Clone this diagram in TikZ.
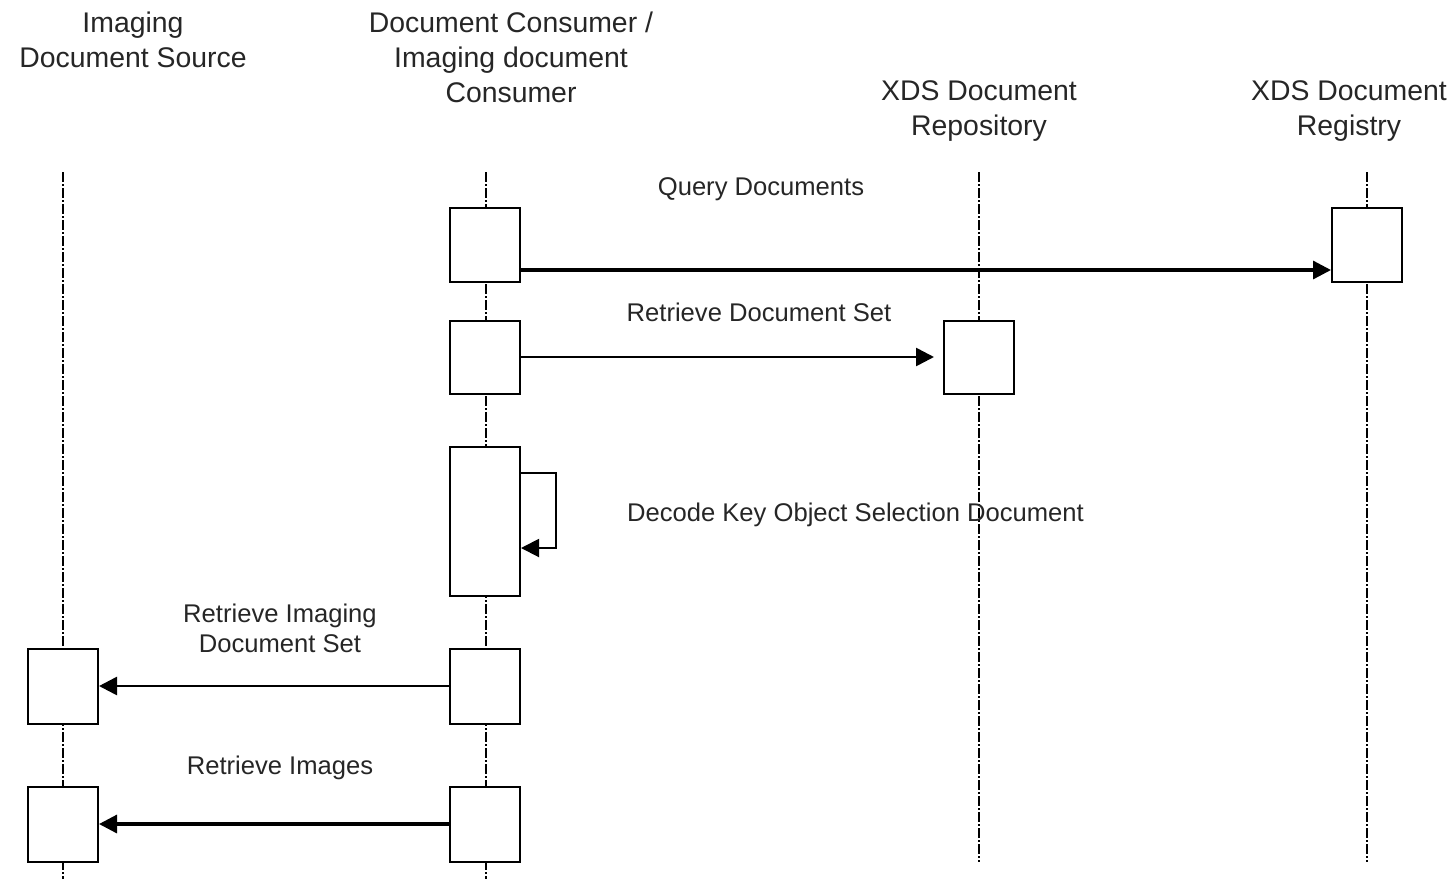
\documentclass[tikz,border=0pt]{standalone}
\usepackage{fontspec}
\setmainfont{Liberation Sans}
\usetikzlibrary{arrows.meta}
\begin{document}
\begin{tikzpicture}[x=0.5pt,y=-0.5pt,
  lifeline/.style={line width=0.6pt, dash pattern=on 5pt off 1pt on 1pt off 1pt},
  actbox/.style={draw, line width=1pt, fill=white, minimum width=35pt, inner sep=0pt, anchor=north},
  msg/.style={line width=1.3pt, -{Triangle[length=9pt,width=9pt]}},
  thickmsg/.style={line width=1.6pt, -{Triangle[length=9pt,width=9pt]}},
  head/.style={align=center, font=\fontsize{14.2}{17.5}\selectfont, text=black!85},
  lbl/.style={align=center, font=\fontsize{12.8}{15}\selectfont, text=black!85}]
\useasboundingbox (0,0) rectangle (1455,879);

% participant headings
\node[head] (hsrc) at (133,40) {Imaging\\Document Source};
\node[head] (hcons) at (511,57) {Document Consumer /\\Imaging document\\Consumer};
\node[head] (hrep) at (979,111) {XDS Document\\Repository};
\node[head] (hreg) at (1349,111) {XDS Document\\Registry};

% lifelines
\coordinate (srcT) at (63,172);  \coordinate (srcB) at (63,879);
\coordinate (conT) at (486,172); \coordinate (conB) at (486,879);
\coordinate (repT) at (979,172); \coordinate (repB) at (979,862);
\coordinate (regT) at (1367,172); \coordinate (regB) at (1367,862);
\draw[lifeline] (srcT) -- (srcB);
\draw[lifeline] (conT) -- (conB);
\draw[lifeline] (repT) -- (repB);
\draw[lifeline] (regT) -- (regB);

% activation boxes
\node[actbox, minimum height=37pt] (c1) at (485,207) {};
\node[actbox, minimum height=37pt] (g1) at (1367,207) {};
\node[actbox, minimum height=36.5pt] (c2) at (485,320) {};
\node[actbox, minimum height=36.5pt] (r1) at (979,320) {};
\node[actbox, minimum height=74.5pt] (c3) at (485,446) {};
\node[actbox, minimum height=37.5pt] (s1) at (63,648) {};
\node[actbox, minimum height=37.5pt] (c4) at (485,648) {};
\node[actbox, minimum height=37.5pt] (s2) at (63,786) {};
\node[actbox, minimum height=37.5pt] (c5) at (485,786) {};

% messages
\draw[thickmsg] (c1.east |- 0,270) -- (g1.west |- 0,270);
\node[lbl] (lq) at (761,189) {Query Documents};

\coordinate (r1in) at ([xshift=-4.5pt]r1.west |- 0,357);
\draw[msg] (c2.east |- 0,357) -- (r1in);
\node[lbl] (lr) at (759,312) {Retrieve Document Set};

\coordinate (loopA) at (556,473);
\coordinate (loopB) at (556,548);
\draw[line width=1pt, -{Triangle[length=9pt,width=9pt]}] (c3.east |- loopA) -- (loopA) -- (loopB) -- (c3.east |- loopB);
\node[lbl, anchor=west] (ld) at (620,515) {Decode Key Object Selection Document};

\draw[msg] (c4.west |- 0,686) -- (s1.east |- 0,686);
\node[lbl] (lri) at (280,628) {Retrieve Imaging\\Document Set};

\draw[thickmsg] (c5.west |- 0,824) -- (s2.east |- 0,824);
\node[lbl] (lim) at (280,768) {Retrieve Images};
\end{tikzpicture}
\end{document}
